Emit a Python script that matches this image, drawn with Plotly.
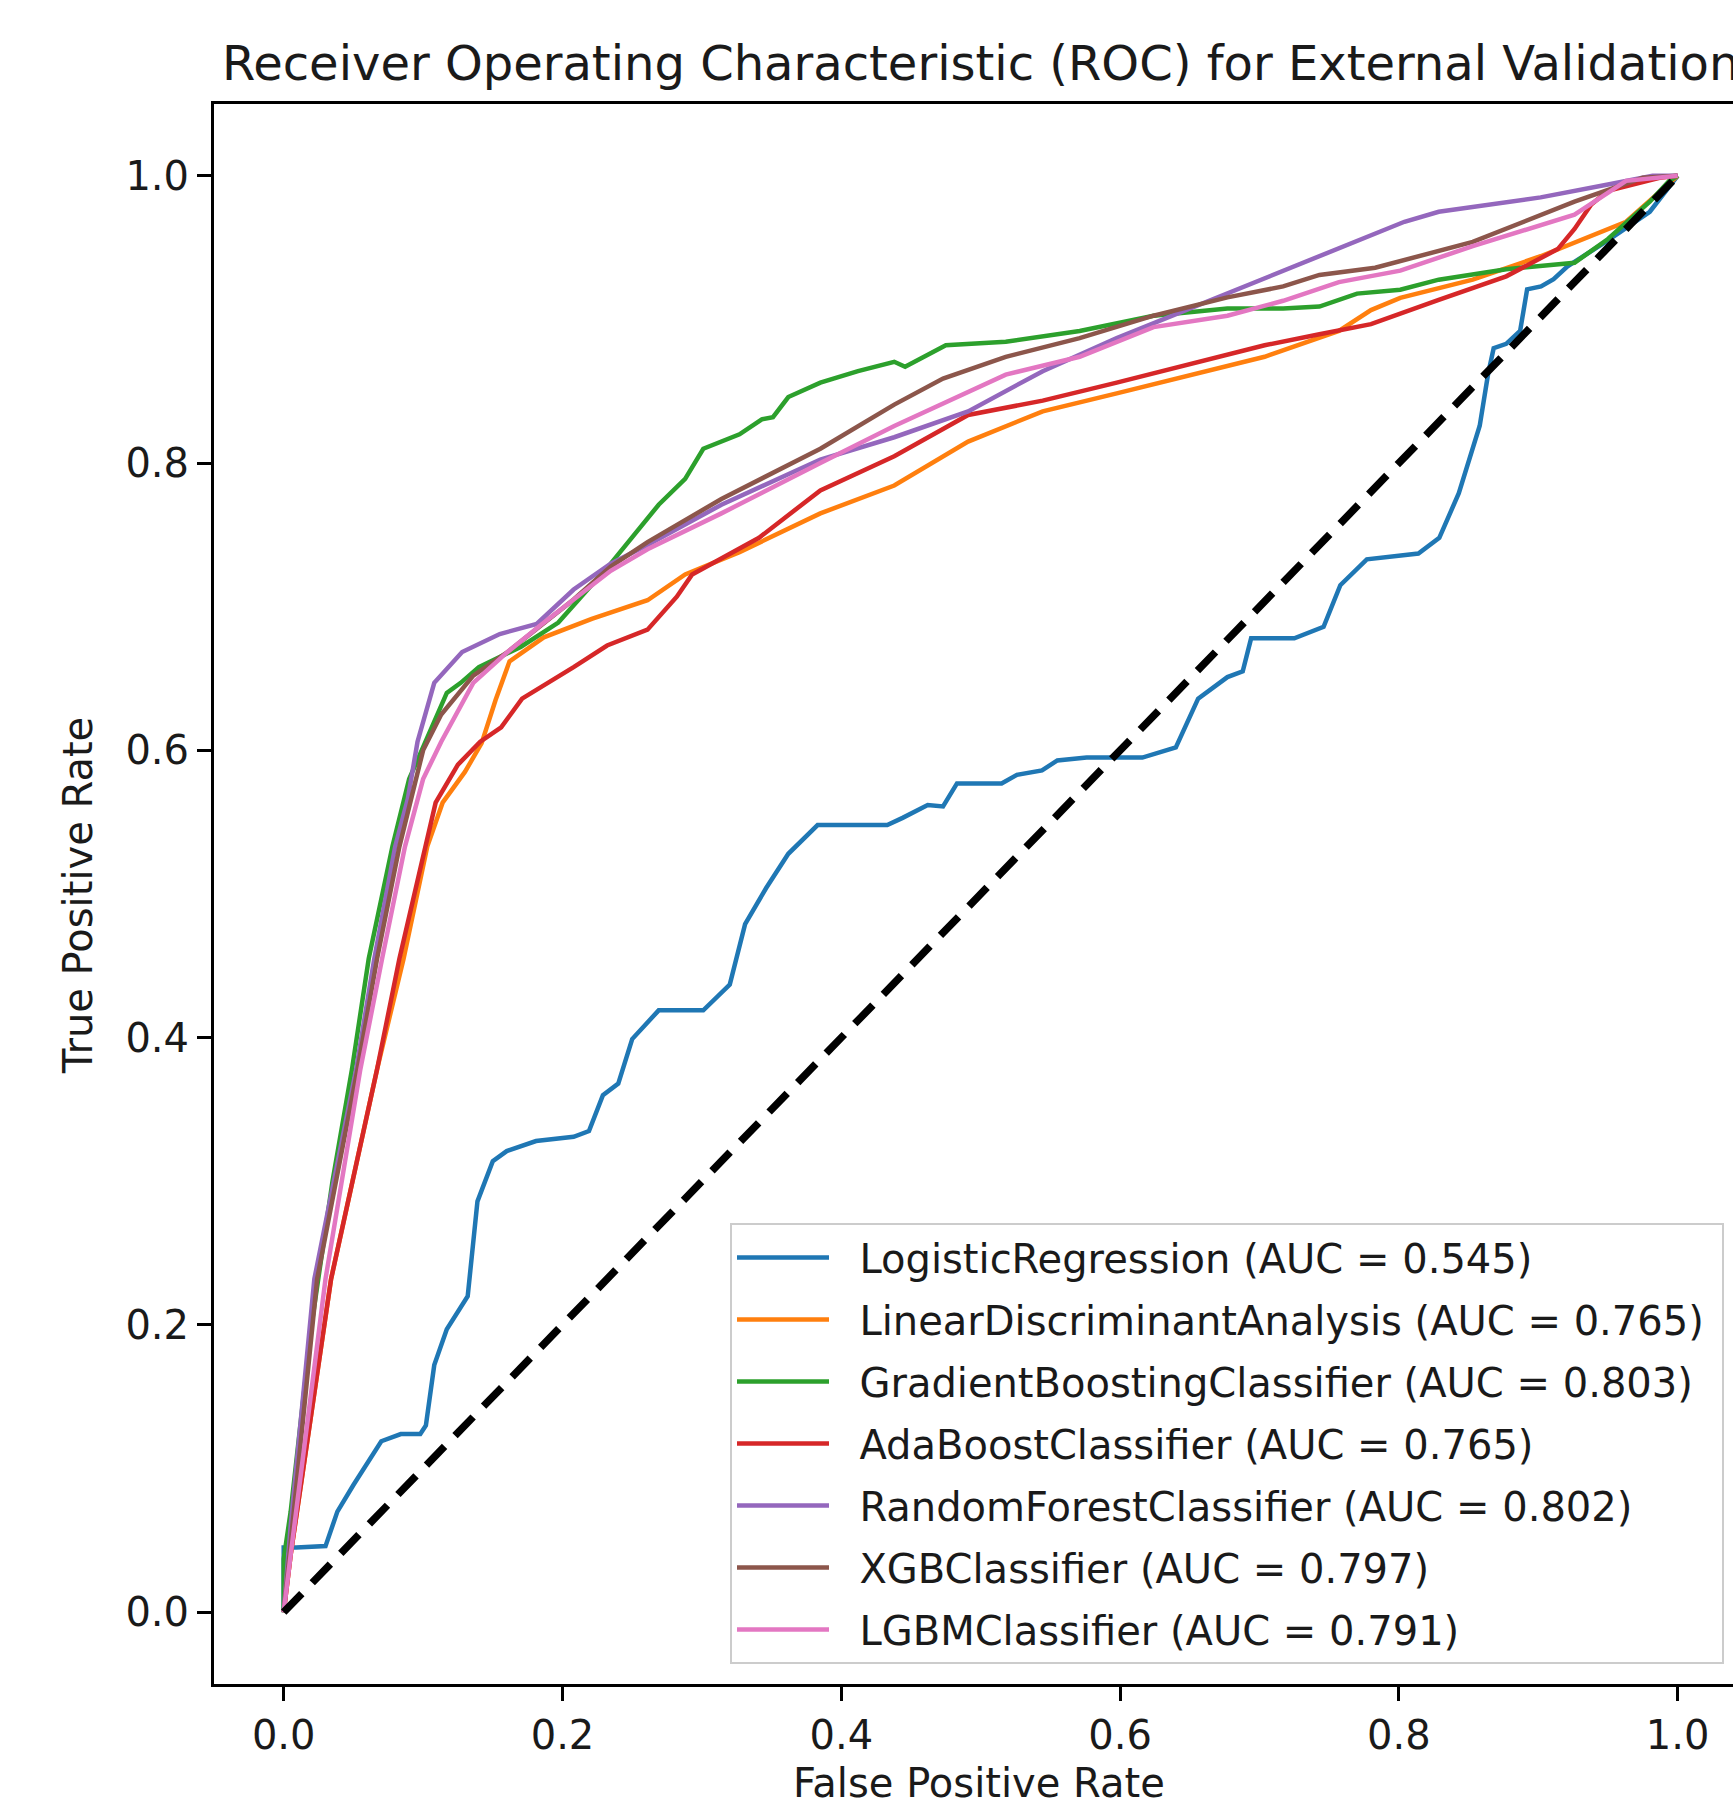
import plotly.graph_objects as go

# ---------------- data ----------------
model_names = ["LogisticRegression", "LinearDiscriminantAnalysis", "GradientBoostingClassifier",
               "AdaBoostClassifier", "RandomForestClassifier", "XGBClassifier", "LGBMClassifier"]
auc_values = [0.545, 0.765, 0.803, 0.765, 0.802, 0.797, 0.791]
colors = ["#1f77b4", "#ff7f0e", "#2ca02c", "#d62728", "#9467bd", "#8c564b", "#e377c2"]

lr_fpr = [0, 0, 0.009, 0.030, 0.0385, 0.050, 0.070, 0.084, 0.098, 0.102, 0.108, 0.117, 0.132, 0.139,
          0.150, 0.160, 0.181, 0.208, 0.219, 0.229, 0.240, 0.250, 0.269, 0.301, 0.320, 0.331, 0.346,
          0.362, 0.383, 0.433, 0.444, 0.462, 0.473, 0.483, 0.515, 0.526, 0.544, 0.555, 0.576, 0.616,
          0.640, 0.656, 0.677, 0.688, 0.694, 0.725, 0.746, 0.758, 0.777, 0.814, 0.829, 0.843, 0.858,
          0.864, 0.868, 0.877, 0.887, 0.892, 0.902, 0.911, 0.921, 0.95, 0.98, 1.0]
lr_tpr = [0, 0.045, 0.045, 0.046, 0.070, 0.0885, 0.119, 0.124, 0.124, 0.130, 0.172, 0.197, 0.22, 0.286,
          0.314, 0.321, 0.328, 0.331, 0.335, 0.360, 0.368, 0.399, 0.419, 0.419, 0.437, 0.479, 0.504,
          0.528, 0.548, 0.548, 0.553, 0.562, 0.561, 0.577, 0.577, 0.583, 0.586, 0.593, 0.595, 0.595,
          0.602, 0.636, 0.651, 0.655, 0.678, 0.678, 0.686, 0.715, 0.733, 0.737, 0.748, 0.779, 0.826,
          0.862, 0.880, 0.883, 0.892, 0.921, 0.923, 0.928, 0.937, 0.955, 0.975, 1.0]

lda_fpr = [0, 0.005, 0.034, 0.067, 0.086, 0.103, 0.114, 0.13, 0.142, 0.152, 0.162, 0.1866, 0.221, 0.261,
           0.288, 0.327, 0.385, 0.438, 0.491, 0.5445, 0.5976, 0.6506, 0.7037, 0.757, 0.780, 0.801,
           0.853, 0.9017, 0.950, 0.963, 1.0]
lda_tpr = [0, 0.04, 0.232, 0.378, 0.455, 0.533, 0.5636, 0.585, 0.605, 0.635, 0.662, 0.6787, 0.6916, 0.7045,
           0.7225, 0.738, 0.765, 0.7844, 0.815, 0.836, 0.8485, 0.8616, 0.874, 0.892, 0.9065, 0.915,
           0.9277, 0.944, 0.963, 0.968, 1.0]

gb_fpr = [0, 0, 0.005, 0.02, 0.035, 0.049, 0.061, 0.078, 0.09, 0.103, 0.117, 0.127, 0.14, 0.17, 0.197,
          0.2346, 0.256, 0.269, 0.288, 0.301, 0.327, 0.343, 0.351, 0.362, 0.385, 0.412, 0.438, 0.4458,
          0.475, 0.518, 0.571, 0.624, 0.677, 0.717, 0.743, 0.770, 0.801, 0.8286, 0.877, 0.9017, 0.926,
          0.950, 0.980, 0.994, 1.0]
gb_tpr = [0, 0.037, 0.07, 0.2, 0.3, 0.378, 0.455, 0.533, 0.58, 0.6095, 0.640, 0.647, 0.658, 0.672, 0.689,
          0.730, 0.756, 0.771, 0.789, 0.810, 0.820, 0.8305, 0.832, 0.846, 0.856, 0.864, 0.8705, 0.867,
          0.882, 0.8845, 0.892, 0.9026, 0.9077, 0.9077, 0.909, 0.918, 0.9207, 0.9277, 0.935, 0.9374,
          0.9395, 0.956, 0.982, 0.9965, 1.0]

ada_fpr = [0, 0.005, 0.034, 0.067, 0.083, 0.102, 0.109, 0.125, 0.141, 0.156, 0.171, 0.208, 0.232, 0.261,
           0.282, 0.293, 0.341, 0.385, 0.438, 0.491, 0.5445, 0.5976, 0.6506, 0.7037, 0.743, 0.780,
           0.8286, 0.877, 0.914, 0.926, 0.938, 0.950, 0.987, 1.0]
ada_tpr = [0, 0.04, 0.232, 0.378, 0.455, 0.533, 0.5636, 0.59, 0.606, 0.616, 0.636, 0.658, 0.673, 0.684,
           0.707, 0.7225, 0.748, 0.781, 0.8048, 0.8335, 0.8435, 0.856, 0.869, 0.882, 0.8897, 0.8967,
           0.9137, 0.930, 0.949, 0.963, 0.980, 0.9896, 0.9986, 1.0]

rf_fpr = [0, 0.005, 0.022, 0.052, 0.065, 0.080, 0.089, 0.096, 0.108, 0.128, 0.155, 0.1815, 0.208, 0.2346,
          0.261, 0.314, 0.385, 0.438, 0.491, 0.5445, 0.5976, 0.6506, 0.7037, 0.757, 0.804, 0.8286,
          0.9017, 0.950, 0.982, 1.0]
rf_tpr = [0, 0.06, 0.232, 0.378, 0.455, 0.533, 0.566, 0.606, 0.647, 0.6685, 0.681, 0.688, 0.712, 0.730,
          0.743, 0.771, 0.8025, 0.818, 0.836, 0.864, 0.887, 0.9077, 0.928, 0.949, 0.968, 0.975,
          0.985, 0.994, 1.0, 1.0]

xgb_fpr = [0, 0.005, 0.024, 0.053, 0.067, 0.083, 0.1, 0.113, 0.136, 0.16, 0.184, 0.208, 0.2346, 0.261,
           0.314, 0.385, 0.438, 0.473, 0.518, 0.571, 0.624, 0.677, 0.717, 0.743, 0.783, 0.853, 0.926,
           0.975, 1.0]
xgb_tpr = [0, 0.05, 0.232, 0.378, 0.455, 0.533, 0.6, 0.625, 0.652, 0.668, 0.687, 0.705, 0.728, 0.745,
           0.775, 0.810, 0.8407, 0.8588, 0.874, 0.887, 0.9026, 0.9154, 0.923, 0.931, 0.936, 0.954, 0.982,
           0.9986, 1.0]

lgbm_fpr = [0, 0.005, 0.030, 0.055, 0.0706, 0.087, 0.1, 0.113, 0.136, 0.160, 0.184, 0.208, 0.2346, 0.261,
            0.314, 0.385, 0.438, 0.518, 0.571, 0.624, 0.677, 0.717, 0.757, 0.801, 0.853, 0.926, 0.963, 1.0]
lgbm_tpr = [0, 0.04, 0.232, 0.378, 0.455, 0.533, 0.58, 0.606, 0.647, 0.668, 0.687, 0.705, 0.725, 0.74,
            0.765, 0.80, 0.8258, 0.8616, 0.874, 0.8947, 0.9026, 0.913, 0.926, 0.934, 0.951, 0.973, 0.9965, 1.0]

chance_x = [0, 1]
chance_y = [0, 1]

x_ticks = [0.0, 0.2, 0.4, 0.6, 0.8, 1.0]
y_ticks = [0.0, 0.2, 0.4, 0.6, 0.8, 1.0]

title_text = "Receiver Operating Characteristic (ROC) for External Validation"
x_label = "False Positive Rate"
y_label = "True Positive Rate"

# ---------------- figure ----------------
curves = [(lr_fpr, lr_tpr), (lda_fpr, lda_tpr), (gb_fpr, gb_tpr), (ada_fpr, ada_tpr),
          (rf_fpr, rf_tpr), (xgb_fpr, xgb_tpr), (lgbm_fpr, lgbm_tpr)]

FONT = "DejaVu Sans"
NB = "\u00a0"
fig = go.Figure()
for name, auc, col, (fx, ty) in zip(model_names, auc_values, colors, curves):
    label = NB * 2 + f"{name} (AUC = {auc:.3f})" + NB
    fig.add_trace(go.Scatter(x=fx, y=ty, mode="lines", name=label,
                             line=dict(color=col, width=4.5), legendgroup=name))

fig.add_trace(go.Scatter(x=chance_x, y=chance_y, mode="lines", showlegend=False,
                         line=dict(color="black", width=7.5, dash="26px,15px")))

W, H = 1733, 1806
L, T, B = 214, 104, 122
fig.update_layout(
    width=W, height=H,
    margin=dict(l=L, r=0, t=T, b=B, autoexpand=False),
    paper_bgcolor="white", plot_bgcolor="white",
    font=dict(family=FONT, size=40, color="black"),
    showlegend=True,
    legend=dict(x=0.3397, y=0.2918, xanchor="left", yanchor="top",
                bgcolor="rgba(255,255,255,0.8)", bordercolor="#cccccc", borderwidth=2,
                font=dict(family=FONT, size=40, color="#1a1a1a"),
                traceorder="grouped", tracegroupgap=7, itemwidth=92),
)
fig.update_xaxes(range=[-0.05, 1.0397], tickvals=x_ticks, ticktext=[f"{v:.1f}" for v in x_ticks],
                 showgrid=False, zeroline=False, showline=True, linecolor="black", linewidth=3,
                 mirror=True, ticks="outside", ticklen=14, tickwidth=3, tickcolor="black",
                 tickfont=dict(family=FONT, size=40, color="#1a1a1a"))
fig.update_yaxes(range=[-0.05, 1.05], tickvals=y_ticks, ticktext=[f"{v:.1f}" for v in y_ticks],
                 showgrid=False, zeroline=False, showline=True, linecolor="black", linewidth=3,
                 mirror=False, ticks="outside", ticklen=14, tickwidth=3, tickcolor="black",
                 tickfont=dict(family=FONT, size=40, color="#1a1a1a"))

fig.add_annotation(text=title_text, xref="paper", yref="paper", x=0.5043, y=1.026,
                   xanchor="center", yanchor="middle", showarrow=False,
                   font=dict(family=FONT, size=48, color="#1a1a1a"))
fig.add_annotation(text=x_label, xref="paper", yref="paper", x=0.5036, y=-0.0625,
                   xanchor="center", yanchor="middle", showarrow=False,
                   font=dict(family=FONT, size=40, color="#1a1a1a"))
fig.add_annotation(text=y_label, xref="paper", yref="paper", x=-0.0895, y=0.4987,
                   xanchor="center", yanchor="middle", showarrow=False, textangle=-90,
                   font=dict(family=FONT, size=40, color="#1a1a1a"))

fig.write_html("out.html", config={"displayModeBar": False},
               post_script="document.body.style.margin='0';document.body.style.overflow='hidden';")
